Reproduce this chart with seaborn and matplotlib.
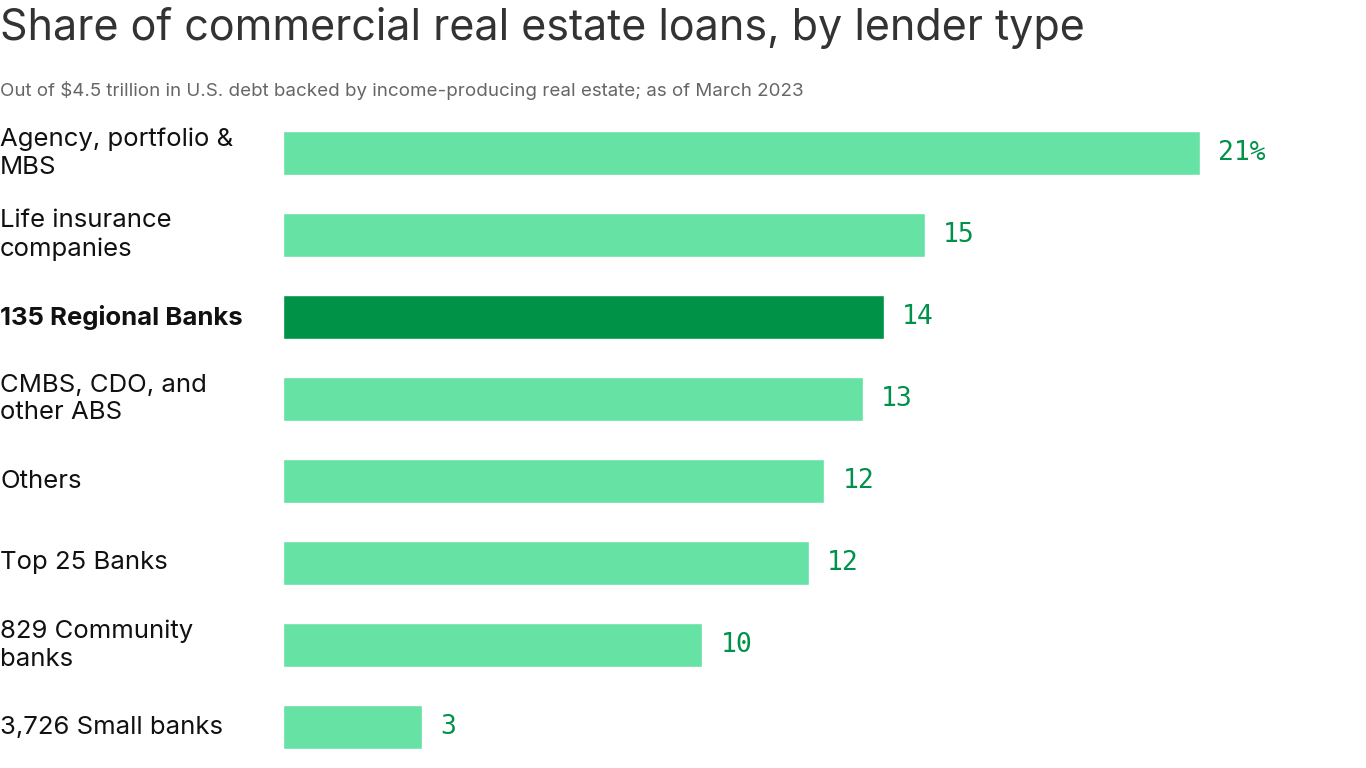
import matplotlib
matplotlib.use("Agg")
import matplotlib.pyplot as plt
import matplotlib.transforms as mtransforms
import seaborn as sns
import pandas as pd

categories = ["Agency, portfolio &\nMBS", "Life insurance\ncompanies", "135 Regional Banks",
              "CMBS, CDO, and\nother ABS", "Others", "Top 25 Banks",
              "829 Community\nbanks", "3,726 Small banks"]
values = [21.0, 14.7, 13.76, 13.28, 12.39, 12.04, 9.6, 3.18]
value_labels = ["21%", "15", "14", "13", "12", "12", "10", "3"]
highlight = "135 Regional Banks"

sns.set_theme(style="white")
plt.rcParams['font.family'] = ['Inter', 'DejaVu Sans']

df = pd.DataFrame({"cat": categories, "val": values, "pos": range(len(categories))})
colors = ["#009347" if c == highlight else "#66e2a4" for c in categories]

fig = plt.figure(figsize=(13.66, 7.68), dpi=100)
ax = fig.add_axes([283 / 1366, 0, 1 - 283 / 1366, 656 / 768])
ax.barh(df["pos"], df["val"], height=0.54, color=colors)
ax.set_xlim(0, (1366 - 283) / 43.67)
ax.set_ylim(7.5, -0.5)
ax.axis("off")

trans = mtransforms.blended_transform_factory(fig.transFigure, ax.transData)
for p, c, v, lab in zip(df["pos"], categories, values, value_labels):
    ax.text(v + 0.42, p, lab, va="center", ha="left", fontsize=19,
            family="DejaVu Sans Mono", color="#00914a")
    ax.text(0.0, p, c, transform=trans, va="center", ha="left", fontsize=18.5,
            color="#111111", fontweight="bold" if c == highlight else "normal",
            linespacing=1.25)

fig.text(0.0, 1 - 28 / 768, "Share of commercial real estate loans, by lender type",
         fontsize=31, color="#333333", va="center", ha="left")
fig.text(0.0, 1 - 90 / 768,
         "Out of $4.5 trillion in U.S. debt backed by income-producing real estate; as of March 2023",
         fontsize=13.5, color="#666666", va="center", ha="left")

fig.savefig("out.png", dpi=100)
